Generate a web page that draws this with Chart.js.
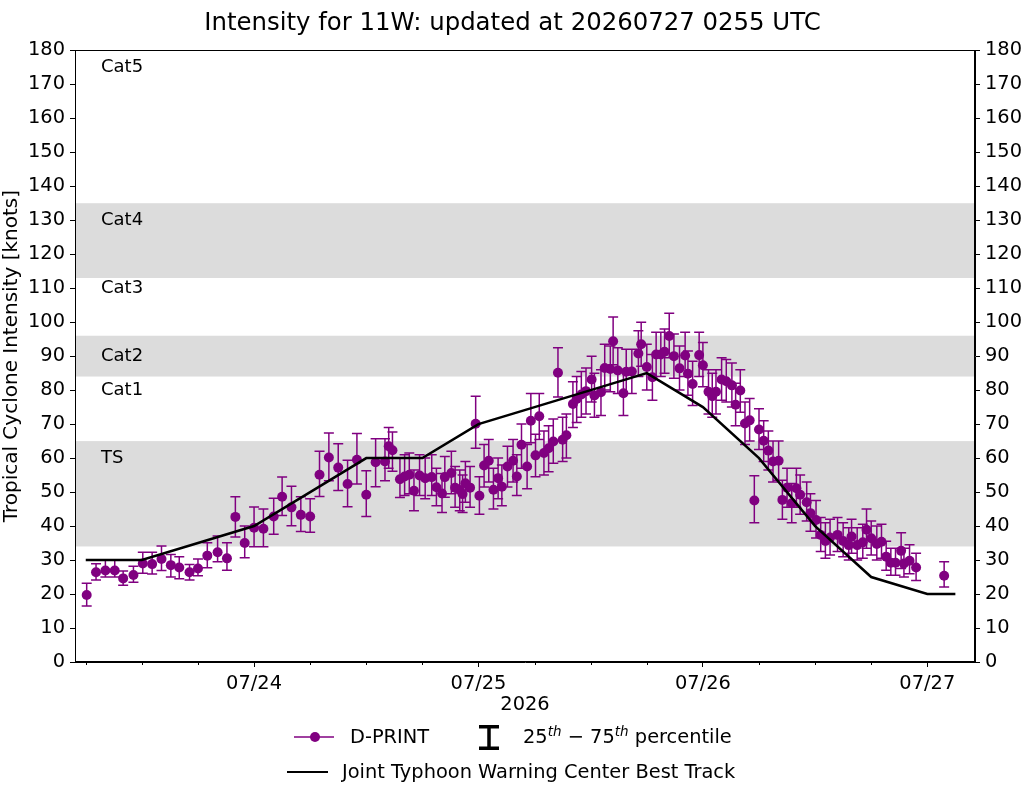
<!DOCTYPE html>
<html>
<head>
<meta charset="utf-8">
<script src="https://cdn.jsdelivr.net/npm/chart.js@4.4.1/dist/chart.umd.min.js"></script>
<style>
  body { margin: 0; background: #fff; font-family: "DejaVu Sans", sans-serif; }
  #wrap { position: relative; width: 1025px; height: 785px; }
  .lg { position: absolute; font-size: 19.4px; height: 24px; line-height: 24px; color: #000; white-space: nowrap; }
  .lg sup { font-size: 13.5px; font-style: italic; vertical-align: 7px; line-height: 0; }
  svg { position: absolute; }
</style>
</head>
<body>
<div id="wrap">
  <canvas id="chart" width="1025" height="785"></canvas>
  <svg style="left:294px;top:731px" width="40" height="12"><line x1="0" y1="6" x2="40" y2="6" stroke="#800080" stroke-width="1.5"/><circle cx="21" cy="6" r="5" fill="#800080"/></svg>
  <div class="lg" style="left:350px;top:725px">D-PRINT</div>
  <svg style="left:479px;top:725px" width="20" height="25"><path d="M0 1.75H20M10 1.75V23.25M0 23.25H20" stroke="#000" stroke-width="3.5" fill="none"/></svg>
  <div class="lg" style="left:523px;top:725px">25<sup>th</sup> − 75<sup>th</sup> percentile</div>
  <svg style="left:287px;top:766px" width="41" height="12"><line x1="0" y1="6" x2="41" y2="6" stroke="#000" stroke-width="2"/></svg>
  <div class="lg" style="left:342px;top:760px">Joint Typhoon Warning Center Best Track</div>
</div>
<script>
// hours since 07/23 00 UTC
const dprintTime = [6.1,7.1,8.1,9.1,10.0,11.1,12.1,13.1,14.1,15.1,16.0,17.1,18.0,19.0,20.1,21.1,22.0,23.0,24.0,25.0,
  26.1,27.0,28.0,29.0,30.0,31.0,32.0,33.0,34.0,35.0,36.0,37.0,38.0,38.4,38.8,39.6,40.1,40.6,41.1,41.7,
  42.3,43.0,43.5,44.1,44.4,45.1,45.5,46.0,46.3,46.6,47.1,47.7,48.1,48.6,49.1,49.6,50.1,50.5,51.1,51.7,
  52.1,52.6,53.2,53.6,54.1,54.5,55.0,55.5,56.0,56.5,57.0,57.4,58.1,58.5,59.0,59.5,60.1,60.4,61.1,61.5,
  62.1,62.4,62.9,63.5,63.8,64.4,65.1,65.4,66.0,66.6,67.0,67.5,67.9,68.4,68.9,69.5,70.1,70.4,70.9,71.6,
  72.0,72.6,73.0,73.4,74.0,74.5,75.1,75.5,76.0,76.5,77.0,77.5,78.0,78.5,79.0,79.5,80.1,80.5,81.0,81.5,
  82.0,82.4,83.1,83.5,84.1,84.6,85.1,85.6,86.4,87.0,87.6,87.9,88.5,89.1,89.5,90.0,90.6,91.1,91.6,92.1,
  92.6,93.2,93.5,94.1,94.8,97.8];
const dprintValue = [19.7,26.4,26.9,26.9,24.6,25.6,29.0,28.8,30.3,28.5,27.8,26.4,27.5,31.3,32.3,30.5,42.7,35.0,39.5,39.2,
  42.8,48.6,45.5,43.3,42.8,55.1,60.2,57.2,52.4,59.5,49.2,58.8,59.0,63.5,62.3,53.8,54.6,55.1,50.4,54.9,
  54.1,54.4,51.4,49.6,54.4,55.6,51.3,50.6,49.4,52.6,51.3,70.1,48.9,57.8,59.2,50.7,54.1,51.6,57.5,59.2,
  54.6,63.9,57.5,71.0,60.8,72.3,61.5,62.9,64.9,85.1,65.4,66.7,75.9,77.4,78.7,79.7,83.1,78.4,79.4,86.5,
  86.2,94.4,85.8,79.1,85.4,85.5,90.8,93.5,86.8,83.8,90.5,90.5,91.3,95.9,90.0,86.4,90.2,84.8,81.8,90.3,
  87.3,79.5,78.2,79.5,83.1,82.6,81.4,75.7,79.9,70.2,71.1,47.5,68.4,65.1,62.2,59.0,59.2,47.7,51.3,46.7,
  51.1,49.2,47.0,43.8,41.8,37.4,35.6,36.6,37.4,35.6,34.4,36.9,34.4,35.2,38.9,36.4,34.7,35.4,31.0,29.2,
  29.2,32.7,29.0,29.8,27.8,25.4];
const dprintLow = [16.5,24.1,25.0,25.0,22.6,23.5,26.1,25.9,26.9,25.0,24.5,24.1,25.4,27.7,29.5,27.0,36.8,30.7,33.9,33.9,
  37.6,43.1,40.1,38.4,38.2,48.7,53.3,50.5,45.7,52.4,42.8,51.6,53.3,57.0,56.1,48.4,49.0,49.5,44.5,49.0,
  48.0,49.0,46.0,44.0,48.5,49.5,45.5,44.5,44.0,47.0,45.5,62.9,43.5,51.5,53.0,45.0,48.0,46.0,51.5,53.0,
  49.0,57.0,51.0,64.5,54.5,65.5,55.0,56.0,58.5,78.0,59.0,60.0,69.0,70.5,72.0,73.0,76.5,72.0,72.5,80.0,
  79.5,87.5,79.0,72.5,79.0,79.0,84.0,87.0,80.0,77.0,84.0,84.0,85.0,89.5,83.5,80.0,84.0,78.5,75.5,84.0,
  81.0,73.0,72.0,73.0,77.0,76.5,75.0,69.5,73.5,64.0,65.0,41.0,62.5,59.0,56.5,53.0,53.5,42.0,45.5,41.0,
  45.5,43.5,41.5,38.5,36.5,32.5,30.5,31.5,32.5,31.0,30.0,32.0,30.0,30.5,33.5,31.5,30.0,30.5,27.0,25.5,
  25.5,27.5,25.0,26.0,24.0,22.1];
const dprintHigh = [23.2,28.9,30.0,30.0,26.8,28.2,32.3,32.3,34.1,31.6,31.0,28.7,30.3,35.1,37.1,35.1,48.6,40.0,45.6,45.0,
  48.2,54.4,51.7,48.6,48.0,62.0,67.4,64.2,59.4,67.2,56.3,65.7,65.7,69.0,67.7,60.0,61.0,61.5,56.5,61.0,
  60.0,61.0,57.0,55.5,60.5,62.0,57.5,56.5,55.0,59.0,57.5,78.2,54.5,64.0,65.5,57.0,60.0,58.0,63.5,65.5,
  61.0,70.0,64.0,79.0,67.0,79.0,68.0,69.5,71.5,92.5,72.0,73.0,82.5,84.0,85.5,86.5,90.0,85.0,86.0,93.5,
  93.0,101.5,92.5,86.0,92.0,92.0,97.5,100.0,93.5,90.5,97.0,97.0,98.0,102.6,96.5,93.0,97.0,91.5,88.5,97.0,
  94.0,86.0,85.0,86.0,89.5,89.0,88.0,82.0,86.0,76.5,77.5,54.8,74.5,71.0,68.0,65.0,65.0,53.5,57.0,52.5,
  57.0,55.0,53.0,49.5,47.5,42.5,41.0,42.0,42.5,41.0,39.5,42.0,39.5,40.5,45.0,41.5,40.0,40.5,35.5,33.5,
  33.5,38.0,33.5,34.5,32.0,29.5];

const bestTime = [6,12,18,24,30,36,42,48,54,60,66,72,78,84,90,96,99];
const bestValue = [30,30,35,40,50,60,60,70,75,80,85,75,60,40,25,20,20];

const tickHours = [24,48,72,96];
const tickLabels = ['07/24','07/25','07/26','07/27'];

const bandLow = [34,84,113];
const bandHigh = [65,96,135];
const catNames = ['TS','Cat1','Cat2','Cat3','Cat4','Cat5'];
const catLevels = [60,80,90,110,130,175];

const FONT = '"DejaVu Sans", sans-serif';
const PURPLE = '#800080';

const backdrop = {
  id: 'backdrop',
  beforeDatasetsDraw(chart) {
    const {ctx, chartArea: a, scales: {x, y}} = chart;
    ctx.save();
    ctx.fillStyle = '#dcdcdc';
    for (let i = 0; i < bandLow.length; i++) {
      const t = y.getPixelForValue(bandHigh[i]), b = y.getPixelForValue(bandLow[i]);
      ctx.fillRect(a.left, t, a.right - a.left, b - t);
    }
    ctx.fillStyle = '#000';
    ctx.font = '18px ' + FONT;
    ctx.textBaseline = 'middle';
    catNames.forEach((n, i) => ctx.fillText(n, a.left + 26, y.getPixelForValue(catLevels[i])));
    // 25th-75th percentile bars
    ctx.strokeStyle = PURPLE;
    ctx.lineWidth = 1.5;
    ctx.beginPath();
    for (let i = 0; i < dprintTime.length; i++) {
      const px = x.getPixelForValue(dprintTime[i]);
      const lo = y.getPixelForValue(dprintLow[i]), hi = y.getPixelForValue(dprintHigh[i]);
      ctx.moveTo(px, lo); ctx.lineTo(px, hi);
      ctx.moveTo(px - 5, lo); ctx.lineTo(px + 5, lo);
      ctx.moveTo(px - 5, hi); ctx.lineTo(px + 5, hi);
    }
    ctx.stroke();
    ctx.restore();
  },
  afterDraw(chart) {
    const {ctx, chartArea: a, scales: {x}} = chart;
    ctx.save();
    ctx.strokeStyle = '#000';
    ctx.lineWidth = 1;
    ctx.strokeRect(Math.round(a.left) + 0.5, Math.round(a.top) + 0.5, Math.round(a.right - a.left) - 1, Math.round(a.bottom - a.top) - 1);
    // minor ticks every 6 h
    ctx.beginPath();
    for (let h = 6; h < x.max; h += 6) {
      if (h < x.min || h % 24 === 0) continue;
      const px = Math.round(x.getPixelForValue(h)) + 0.5;
      ctx.moveTo(px, a.bottom); ctx.lineTo(px, a.bottom + 3);
    }
    ctx.stroke();
    ctx.restore();
  }
};

const tickStyle = { color: '#000', font: { family: FONT, size: 19.4 }, padding: 5 };
const gridStyle = { drawOnChartArea: false, tickLength: 5, tickColor: '#000', tickWidth: 1 };
const borderStyle = { color: '#000', width: 1 };

new Chart(document.getElementById('chart'), {
  type: 'scatter',
  data: {
    datasets: [
      {
        label: 'Joint Typhoon Warning Center Best Track',
        data: bestTime.map((t, i) => ({x: t, y: bestValue[i]})),
        showLine: true,
        borderColor: '#000',
        borderWidth: 2.5,
        pointRadius: 0,
        tension: 0,
        order: 0
      },
      {
        label: 'D-PRINT',
        data: dprintTime.map((t, i) => ({x: t, y: dprintValue[i]})),
        showLine: false,
        pointRadius: 5,
        pointBackgroundColor: PURPLE,
        pointBorderWidth: 0,
        order: 1
      }
    ]
  },
  options: {
    responsive: false,
    animation: false,
    devicePixelRatio: 1,
    events: [],
    layout: { padding: { top: 0, left: 0, right: 0, bottom: 68 } },
    plugins: {
      legend: { display: false },
      tooltip: { enabled: false },
      title: {
        display: true,
        text: 'Intensity for 11W: updated at 20260727 0255 UTC',
        color: '#000',
        font: { family: FONT, size: 24.4, weight: 'normal' },
        padding: { top: 9, bottom: 12 }
      }
    },
    scales: {
      x: {
        type: 'linear',
        min: 4.85,
        max: 101.1,
        afterBuildTicks: s => { s.ticks = tickHours.map(v => ({value: v})); },
        afterFit: s => { s.height = 55; },
        ticks: { ...tickStyle, maxRotation: 0, callback: v => tickLabels[tickHours.indexOf(v)] },
        grid: gridStyle,
        border: borderStyle,
        title: { display: true, text: '2026', color: '#000', font: { family: FONT, size: 19.4 }, padding: 0 }
      },
      y: {
        position: 'left',
        min: 0,
        max: 180,
        afterFit: s => { s.width = 75; },
        ticks: { ...tickStyle, stepSize: 10 },
        grid: gridStyle,
        border: borderStyle,
        title: { display: true, text: 'Tropical Cyclone Intensity [knots]', color: '#000', font: { family: FONT, size: 20 }, padding: 0 }
      },
      y2: {
        position: 'right',
        min: 0,
        max: 180,
        afterFit: s => { s.width = 50; },
        ticks: { ...tickStyle, stepSize: 10 },
        grid: gridStyle,
        border: borderStyle
      }
    }
  },
  plugins: [backdrop]
});
</script>
</body>
</html>
